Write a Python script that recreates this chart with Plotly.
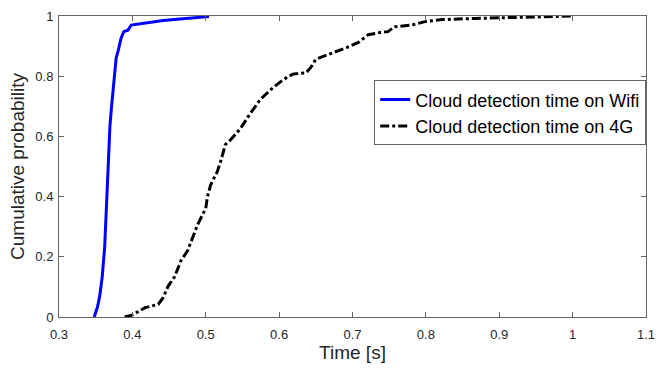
import plotly.graph_objects as go

# Wifi CDF (time in s, cumulative probability)
wifi_time = [0.348, 0.3524, 0.3556, 0.359, 0.3623, 0.3645, 0.3667, 0.3694, 0.3716,
             0.3748, 0.3779, 0.3805, 0.3846, 0.3882, 0.394, 0.3985, 0.406, 0.424,
             0.442, 0.4687, 0.4866, 0.5045]
wifi_prob = [0.0, 0.033, 0.071, 0.136, 0.234, 0.364, 0.504, 0.634, 0.699,
             0.796, 0.861, 0.883, 0.926, 0.948, 0.953, 0.970, 0.973, 0.978,
             0.985, 0.991, 0.995, 0.998]

# 4G CDF
g4_time = [0.3895, 0.3993, 0.4173, 0.4352, 0.4419, 0.4486, 0.4576, 0.4664, 0.4754,
           0.4889, 0.5, 0.5023, 0.5067, 0.5157, 0.5201, 0.5268, 0.5336, 0.547,
           0.5604, 0.5738, 0.5873, 0.6052, 0.6187, 0.6365, 0.6432, 0.65, 0.6678,
           0.6902, 0.708, 0.7215, 0.7395, 0.7483, 0.7573, 0.7824, 0.8003, 0.8227,
           0.8674, 0.912, 0.957, 1.0016]
g4_prob = [0.0, 0.006, 0.031, 0.042, 0.064, 0.102, 0.134, 0.188, 0.221,
           0.307, 0.361, 0.400, 0.439, 0.483, 0.515, 0.573, 0.588, 0.625,
           0.675, 0.721, 0.753, 0.788, 0.807, 0.811, 0.829, 0.856, 0.873,
           0.893, 0.912, 0.938, 0.946, 0.948, 0.964, 0.971, 0.982, 0.988,
           0.992, 0.994, 0.997, 1.0]

x_ticks = [0.3, 0.4, 0.5, 0.6, 0.7, 0.8, 0.9, 1.0, 1.1]
x_labels = ["0.3", "0.4", "0.5", "0.6", "0.7", "0.8", "0.9", "1", "1.1"]
y_ticks = [0, 0.2, 0.4, 0.6, 0.8, 1]
y_labels = ["0", "0.2", "0.4", "0.6", "0.8", "1"]

FONT = "Liberation Sans, Arial, Helvetica, sans-serif"

fig = go.Figure()
fig.add_trace(go.Scatter(x=wifi_time, y=wifi_prob, mode="lines",
                         name="Cloud detection time on Wifi",
                         line=dict(color="#0000ff", width=3)))
fig.add_trace(go.Scatter(x=g4_time, y=g4_prob, mode="lines",
                         name="Cloud detection time on 4G",
                         line=dict(color="#000000", width=3, dash="dashdot")))

axis_common = dict(
    showgrid=False, zeroline=False, showline=True, linecolor="#666666", linewidth=1,
    mirror="ticks", ticks="inside", ticklen=5, tickcolor="#666666",
    tickfont=dict(family=FONT, size=13, color="#262626"),
)

fig.update_layout(
    width=664, height=368,
    margin=dict(l=59, r=9, t=14, b=46),
    paper_bgcolor="white", plot_bgcolor="white",
    font=dict(family=FONT, color="#262626"),
    xaxis=dict(range=[0.3, 1.1], tickvals=x_ticks, ticktext=x_labels,
               ticklabelstandoff=5,
               title=dict(text="Time [s]", font=dict(size=19, family=FONT, color="#262626"), standoff=4),
               **axis_common),
    yaxis=dict(range=[0, 1], tickvals=y_ticks, ticktext=y_labels,
               ticklabelstandoff=2,
               title=dict(text="Cumulative probability", font=dict(size=19, family=FONT, color="#262626"), standoff=5),
               **axis_common),
    legend=dict(x=0.537, y=0.786, xanchor="left", yanchor="top",
                bgcolor="white", bordercolor="#666666", borderwidth=1,
                font=dict(family=FONT, size=18, color="#000000"),
                tracegroupgap=0, itemwidth=30),
    showlegend=True,
)

fig.write_html("out.html")
